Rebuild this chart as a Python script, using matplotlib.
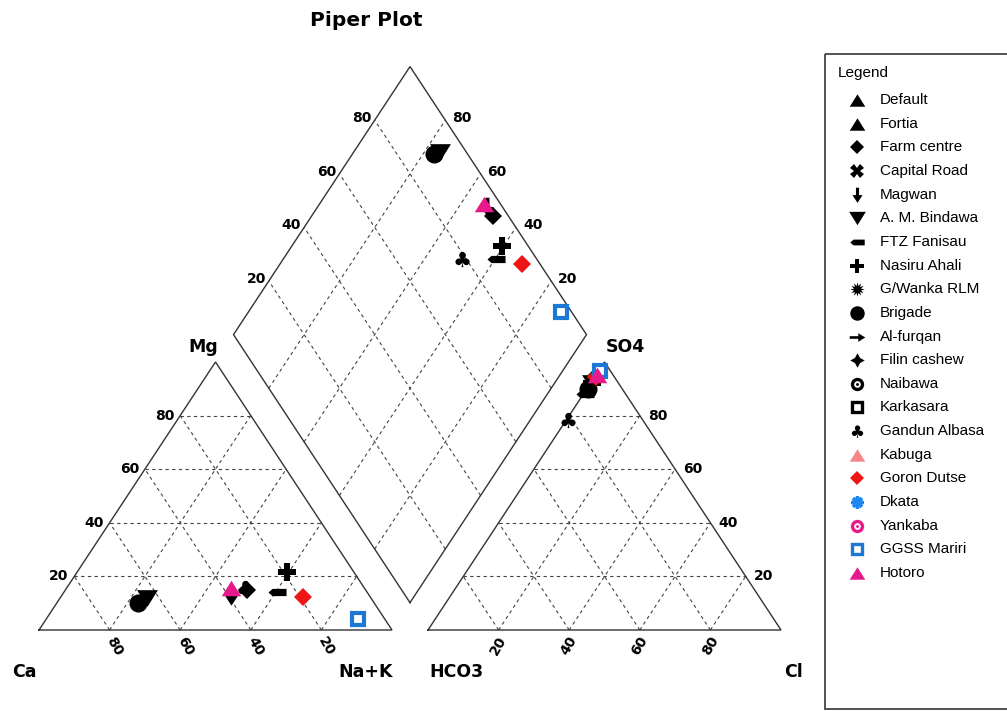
import numpy as np
import matplotlib
matplotlib.use("Agg")
import matplotlib.pyplot as plt
from matplotlib.path import Path
from matplotlib.patches import Rectangle

# ---------------------------------------------------------------- data
samples = ["Default", "Fortia", "Farm centre", "Capital Road", "Magwan",
           "A. M. Bindawa", "FTZ Fanisau", "Nasiru Ahali", "G/Wanka RLM",
           "Brigade", "Al-furqan", "Filin cashew", "Naibawa", "Karkasara",
           "Gandun Albasa", "Kabuga", "Goron Dutse", "Dkata", "Yankaba",
           "GGSS Mariri", "Hotoro"]
nan = np.nan
# cations, % meq/L
ca  = np.array([nan, nan, 33.7, nan, 39.5, 63.5, 25.4, 19.0, nan, 66.9, nan,
                nan, nan, nan, 33.8, nan, 18.9, nan, nan, 7.5, 37.7])
mg  = np.array([nan, nan, 14.9, nan, 12.5, 12.0, 14.3, 21.6, nan, 10.0, nan,
                nan, nan, nan, 15.5, nan, 12.4, nan, nan, 4.0, 15.7])
nak = np.array([nan, nan, 51.4, nan, 48.0, 24.5, 60.3, 59.4, nan, 23.1, nan,
                nan, nan, nan, 50.7, nan, 68.7, nan, nan, 88.5, 46.6])
# anions, % meq/L
so4 = np.array([nan, nan, 95.0, nan, 95.0, 92.1, 88.0, 92.0, nan, 89.9, nan,
                nan, nan, nan, 78.5, nan, 94.5, nan, nan, 96.6, 95.0])
cl  = np.array([nan, nan, 0.5, nan, 0.5, 0.4, 0.6, 0.5, nan, 0.5, nan,
                nan, nan, nan, 0.3, nan, 0.4, nan, nan, 0.4, 0.5])
hco3 = 100.0 - so4 - cl

grid_values = [20, 40, 60, 80]

# ---------------------------------------------------------------- geometry
S3 = np.sqrt(3) / 2
GAP = 0.102


def cation_xy(c, m, n):
    t = c + m + n
    return (n + m / 2) / t, m / t * S3


def anion_xy(h, s, c):
    t = h + s + c
    return 1 + GAP + (c + s / 2) / t, s / t * S3


def diamond_from(a, s):
    # a = (Ca+Mg) fraction, s = (SO4+Cl) fraction
    return 1 + GAP / 2 + 0.5 * (s - a), GAP * S3 + S3 * (a + s)


def diamond_xy(c, m, n, h, s, cc):
    return diamond_from((c + m) / (c + m + n), (s + cc) / (h + s + cc))


# ---------------------------------------------------------------- markers
tri_up = Path([(0, 0.8), (-1, -0.8), (1, -0.8), (0, 0.8)], closed=True)
tri_down = Path([(0, -0.8), (-1, 0.8), (1, 0.8), (0, -0.8)], closed=True)
arrow_down = Path([(-0.2, 1), (0.2, 1), (0.2, 0.05), (0.65, 0.05), (0, -0.95),
                   (-0.65, 0.05), (-0.2, 0.05), (-0.2, 1)], closed=True)
arrow_right = Path([(-1, 0.17), (0.1, 0.17), (0.1, 0.55), (1, 0), (0.1, -0.55),
                    (0.1, -0.17), (-1, -0.17), (-1, 0.17)], closed=True)
bullet_left = Path([(-1, 0), (-0.55, 0.4), (1, 0.4), (1, -0.4), (-0.55, -0.4),
                    (-1, 0)], closed=True)

K = "black"
PINK = "#F4878A"
RED = "#EE1515"
BLUE = "#1E88F0"
MAG = "#E8198B"
SQBLUE = "#1C78D4"


def L(marker, ms, fc, ec=None, mew=0.0):
    return dict(marker=marker, ms=ms, mfc=fc, mec=ec if ec else fc, mew=mew)


styles = {
    "Default":       [L(tri_up, 14, K)],
    "Fortia":        [L(tri_up, 14, K)],
    "Farm centre":   [L("D", 9, K)],
    "Capital Road":  [L("X", 12, K)],
    "Magwan":        [L(arrow_down, 14, K)],
    "A. M. Bindawa": [L(tri_down, 15, K)],
    "FTZ Fanisau":   [L(bullet_left, 13, K)],
    "Nasiru Ahali":  [L("P", 13, K)],
    "G/Wanka RLM":   [L((12, 1, 0), 13, K)],
    "Brigade":       [L("o", 13, K)],
    "Al-furqan":     [L(arrow_right, 14, K)],
    "Filin cashew":  [L((4, 1, 0), 13, K)],
    "Naibawa":       [L("o", 12, K), L("o", 6, "white"), L("o", 2.6, K)],
    "Karkasara":     [L("s", 9, "white", K, 3.0)],
    "Gandun Albasa": [L("$\u2663$", 11, K)],
    "Kabuga":        [L(tri_up, 14, PINK)],
    "Goron Dutse":   [L("D", 9, RED)],
    "Dkata":         [L((8, 2, 0), 11, BLUE, BLUE, 3.0)],
    "Yankaba":       [L("o", 12, MAG), L("o", 6, "white"), L("o", 2.6, MAG)],
    "GGSS Mariri":   [L("s", 9, "white", SQBLUE, 3.0)],
    "Hotoro":        [L(tri_up, 14, MAG)],
}

# ---------------------------------------------------------------- figure
fig = plt.figure(figsize=(10.07, 7.11), dpi=100)
ax = fig.add_axes([0, 0, 1, 1])
ax.set_xlim(-39 / 353, 968 / 353)
ax.set_ylim(-81 / 309.5, 630 / 309.5)
ax.axis("off")

OUT = dict(color="#333333", lw=1.0, zorder=2, solid_joinstyle="miter")
GRID = dict(color="#444444", lw=0.8, ls=(0, (3, 3)), zorder=1)


def seg(p, q, **kw):
    ax.plot([p[0], q[0]], [p[1], q[1]], **kw)


# outlines
for fn in (cation_xy, anion_xy):
    a, b, c = fn(100, 0, 0), fn(0, 100, 0), fn(0, 0, 100)
    xs = [a[0], c[0], b[0], a[0]]
    ys = [a[1], c[1], b[1], a[1]]
    ax.plot(xs, ys, **OUT)
corners = [diamond_from(0, 0), diamond_from(1, 0), diamond_from(1, 1),
           diamond_from(0, 1), diamond_from(0, 0)]
ax.plot([p[0] for p in corners], [p[1] for p in corners], **OUT)

# dashed grid
for v in grid_values:
    f = v / 100
    for fn in (cation_xy, anion_xy):
        seg(fn(1 - f, f, 0), fn(0, f, 1 - f), **GRID)
        seg(fn(f, 0, 1 - f), fn(f, 1 - f, 0), **GRID)
        seg(fn(1 - f, 0, f), fn(0, 1 - f, f), **GRID)
    seg(diamond_from(f, 0), diamond_from(f, 1), **GRID)
    seg(diamond_from(0, f), diamond_from(1, f), **GRID)

# tick labels
TK = dict(fontsize=10, fontweight="bold", family="DejaVu Sans",
          textcoords="offset pixels", color="black")
for v in grid_values:
    f = v / 100
    lab = str(v)
    ax.annotate(lab, cation_xy(1 - f, f, 0), xytext=(-6, 0), ha="right",
                va="center", **TK)
    ax.annotate(lab, cation_xy(f, 0, 1 - f), xytext=(5, -16), ha="center",
                va="center", rotation=-60, **TK)
    ax.annotate(lab, anion_xy(0, f, 1 - f), xytext=(8, 0), ha="left",
                va="center", **TK)
    ax.annotate(lab, anion_xy(1 - f, 0, f), xytext=(0, -16), ha="center",
                va="center", rotation=60, **TK)
    ax.annotate(lab, diamond_from(1, f), xytext=(-3, 2), ha="right",
                va="center", **TK)
    ax.annotate(lab, diamond_from(f, 1), xytext=(7, 2), ha="left",
                va="center", **TK)

# axis names
AX = dict(fontsize=12.5, fontweight="bold", family="DejaVu Sans",
          textcoords="offset pixels", ha="center", va="center")
ax.annotate("Mg", cation_xy(0, 100, 0), xytext=(-12, 15), **AX)
ax.annotate("Ca", cation_xy(100, 0, 0), xytext=(-15, -42), **AX)
ax.annotate("Na+K", cation_xy(0, 0, 100), xytext=(-26, -42), **AX)
ax.annotate("SO4", anion_xy(0, 100, 0), xytext=(21, 15), **AX)
ax.annotate("HCO3", anion_xy(100, 0, 0), xytext=(28, -42), **AX)
ax.annotate("Cl", anion_xy(0, 0, 100), xytext=(12, -42), **AX)

fig.text(366.5 / 1007, 1 - 20 / 711, "Piper Plot", fontsize=14.5,
         fontweight="heavy", family="DejaVu Sans", ha="center", va="center")

# sample points in all three fields
for i, name in enumerate(samples):
    if np.isnan(ca[i]):
        continue
    pts = [cation_xy(ca[i], mg[i], nak[i]),
           anion_xy(hco3[i], so4[i], cl[i]),
           diamond_xy(ca[i], mg[i], nak[i], hco3[i], so4[i], cl[i])]
    for layer_no, st in enumerate(styles[name]):
        ax.plot([p[0] for p in pts], [p[1] for p in pts], ls="none",
                marker=st["marker"], ms=st["ms"], mfc=st["mfc"],
                mec=st["mec"], mew=st["mew"], zorder=5 + i + 0.1 * layer_no)

# legend panel
lax = fig.add_axes([0, 0, 1, 1], facecolor="none")
lax.set_xlim(0, 1007)
lax.set_ylim(711, 0)
lax.axis("off")
lax.add_patch(Rectangle((825, 54), 200, 655, fill=False, ec="#444444",
                        lw=1.3, clip_on=False))
lax.text(838, 73, "Legend", fontsize=11, family="Liberation Sans",
         ha="left", va="center")
row0, dy = 100, 23.65
for k, name in enumerate(samples):
    y = row0 + k * dy
    for st in styles[name]:
        lax.plot([857], [y], ls="none", marker=st["marker"],
                 ms=st["ms"] * 0.8, mfc=st["mfc"], mec=st["mec"],
                 mew=st["mew"] * 0.8)
    lax.text(880, y, name, fontsize=11, family="Liberation Sans",
             ha="left", va="center")

fig.savefig("out.png", dpi=100)
